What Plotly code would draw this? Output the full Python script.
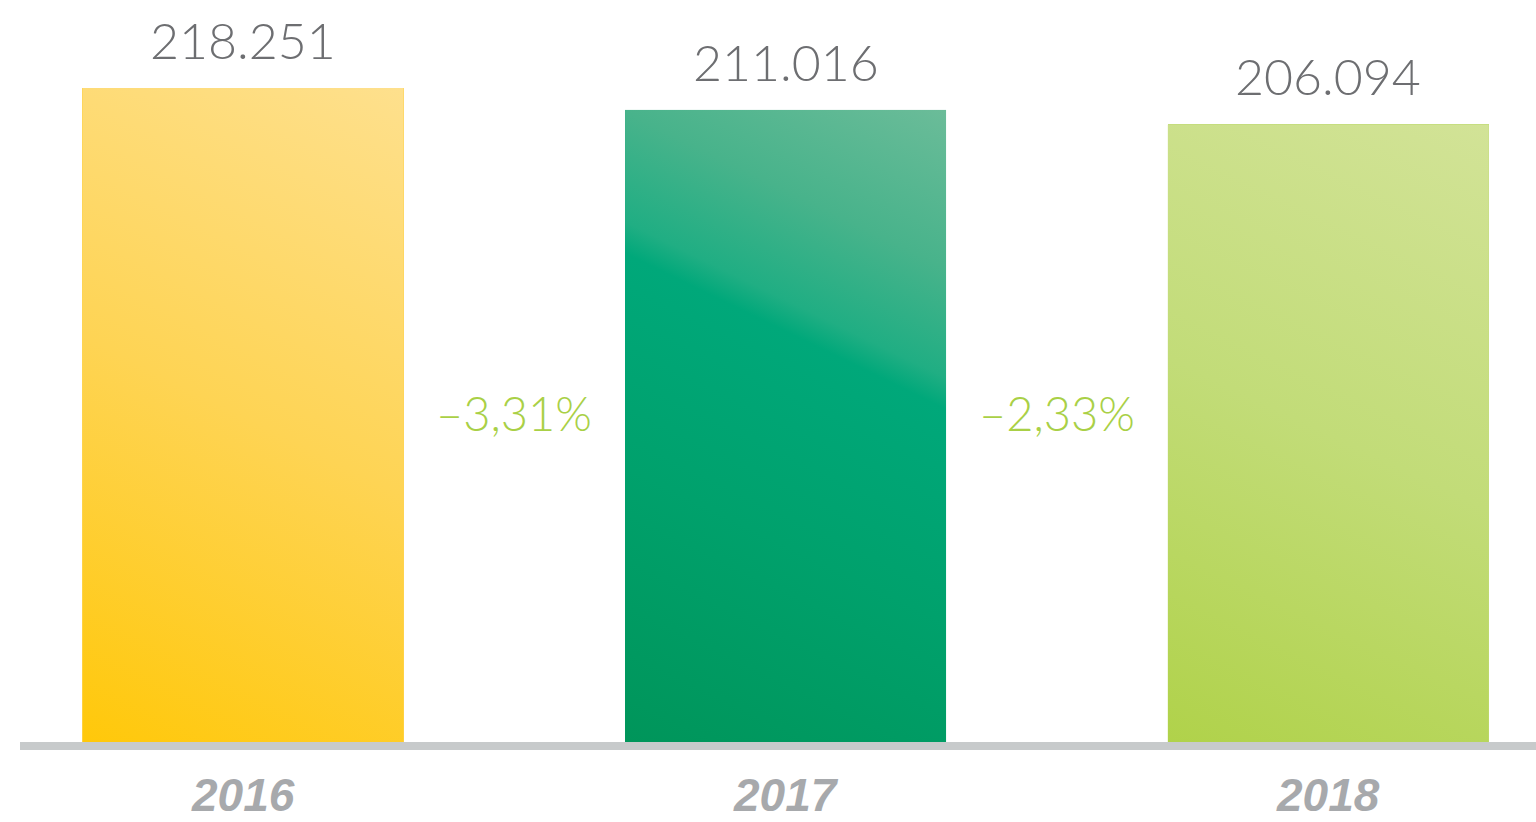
import base64
import plotly.graph_objects as go

# Data
years = ["2016", "2017", "2018"]
values = [218251, 211016, 206094]

# Gradient stops per bar (bottom-left -> top-right)
gradients = [
    [(0.0, "#ffc80a"), (0.5, "#fed454"), (1.0, "#fee08d")],
    [(0.0, "#00955a"), (0.35, "#00a16c"), (0.62, "#00a87a"), (0.66, "#20ae83"),
     (0.8, "#48b38b"), (1.0, "#6bbc99")],
    [(0.0, "#b0d24a"), (0.5, "#c2dc78"), (1.0, "#d2e397")],
]
base_colors = ["#fed454", "#00a878", "#c2dc78"]

VALUE_COLOR = "#6d6e71"
PCT_COLOR = "#a9d046"
YEAR_COLOR = "#a7a9ac"
AXIS_LINE = "#c7cacb"

bar_width = 0.592
x_pos = list(range(len(years)))

PLOT_H = 742  # pixel height of the plotting area


def fmt_thousands(v):
    return f"{v:,}".replace(",", ".")


def fmt_pct(a, b):
    p = (b - a) / a * 100
    s = f"{abs(p):.2f}".replace(".", ",")
    return ("–" if p < 0 else "+") + s + "%"


def gradient_uri(stops):
    stop_xml = "".join(
        f'<stop offset="{o}" stop-color="{c}"/>' for o, c in stops
    )
    svg = (
        '<svg xmlns="http://www.w3.org/2000/svg" width="100" height="100" '
        'viewBox="0 0 100 100" preserveAspectRatio="none">'
        '<defs><linearGradient id="g" x1="0" y1="1" x2="0.29" y2="-0.175">'
        f"{stop_xml}</linearGradient></defs>"
        '<rect x="0" y="0" width="100" height="100" fill="url(#g)"/></svg>'
    )
    return "data:image/svg+xml;base64," + base64.b64encode(svg.encode()).decode()


fig = go.Figure()
fig.add_trace(
    go.Bar(
        x=x_pos,
        y=values,
        width=bar_width,
        marker=dict(color=base_colors, line=dict(width=0)),
        hoverinfo="skip",
        showlegend=False,
    )
)

# Gradient fill laid over each bar, sized from the bar's own value
images = []
for i, (v, st) in enumerate(zip(values, gradients)):
    images.append(
        dict(
            source=gradient_uri(st),
            xref="x", yref="y",
            x=i - bar_width / 2, y=v,
            sizex=bar_width, sizey=v,
            xanchor="left", yanchor="top",
            sizing="stretch",
            layer="above",
        )
    )

annotations = []
# Value labels above bars
for i, v in enumerate(values):
    annotations.append(
        dict(
            x=i, y=v, xref="x", yref="y",
            text=fmt_thousands(v),
            showarrow=False,
            yanchor="middle",
            yshift=48,
            font=dict(family="Lato", size=50, color=VALUE_COLOR, weight=300),
        )
    )
# Year-over-year change between bars
for i in range(len(values) - 1):
    annotations.append(
        dict(
            x=i + 0.5, y=0.443, xref="x", yref="paper",
            text=fmt_pct(values[i], values[i + 1]),
            showarrow=False,
            yanchor="middle",
            font=dict(family="Lato", size=47, color=PCT_COLOR, weight=300),
        )
    )
# Year labels under the baseline
for i, yr in enumerate(years):
    annotations.append(
        dict(
            x=i, y=0, xref="x", yref="paper",
            text=yr,
            showarrow=False,
            yanchor="middle",
            yshift=-53,
            font=dict(family="Liberation Sans", size=46, color=YEAR_COLOR,
                      weight="bold", style="italic"),
        )
    )

y_top = max(values) * PLOT_H / 654

fig.update_layout(
    width=1536,
    height=822,
    margin=dict(l=0, r=0, t=0, b=822 - PLOT_H, autoexpand=False),
    paper_bgcolor="white",
    plot_bgcolor="white",
    showlegend=False,
    bargap=0,
    images=images,
    annotations=annotations,
    shapes=[
        dict(
            type="rect",
            xref="paper", yref="paper",
            x0=20 / 1536, x1=1,
            y0=-8 / PLOT_H, y1=0,
            fillcolor=AXIS_LINE,
            line=dict(width=0),
            layer="above",
        )
    ],
    xaxis=dict(
        range=[-0.448, 2.383],
        showticklabels=False,
        showgrid=False,
        zeroline=False,
        showline=False,
        ticks="",
        automargin=False,
        fixedrange=True,
    ),
    yaxis=dict(
        range=[0, y_top],
        visible=False,
        showgrid=False,
        zeroline=False,
        automargin=False,
        fixedrange=True,
    ),
)

fig.write_html("out.html", config={"displayModeBar": False})
